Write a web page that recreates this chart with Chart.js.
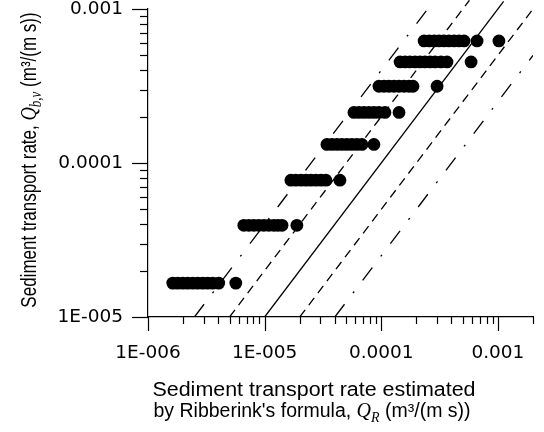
<!DOCTYPE html>
<html><head><meta charset="utf-8">
<script src="https://cdn.jsdelivr.net/npm/chart.js@4"></script>
<style>html,body{margin:0;padding:0;background:#fff}#wrap{width:544px;height:432px;position:relative}</style>
</head><body><div id="wrap"><canvas id="c"></canvas></div>
<script>
// ---- data ----
const qbvLevels = [1.66e-5, 3.94e-5, 7.73e-5, 1.32e-4, 2.13e-4, 3.15e-4, 4.53e-4, 6.2e-4];
const qR_level1 = [1.63e-6, 1.80e-6, 1.99e-6, 2.19e-6, 2.42e-6, 2.67e-6, 2.95e-6, 3.25e-6, 3.59e-6, 4.04e-6, 5.66e-6];
const qR_level2 = [6.63e-6, 7.32e-6, 8.08e-6, 8.92e-6, 9.84e-6, 1.087e-5, 1.20e-5, 1.30e-5, 1.41e-5, 1.89e-5];
const qR_level3 = [1.68e-5, 1.85e-5, 2.05e-5, 2.26e-5, 2.49e-5, 2.75e-5, 3.04e-5, 3.35e-5, 4.42e-5];
const qR_level4 = [3.42e-5, 3.78e-5, 4.17e-5, 4.60e-5, 5.08e-5, 5.60e-5, 6.18e-5, 6.83e-5, 8.65e-5];
const qR_level5 = [5.83e-5, 6.44e-5, 7.11e-5, 7.84e-5, 8.65e-5, 9.55e-5, 1.076e-4, 1.42e-4];
const qR_level6 = [9.55e-5, 1.055e-4, 1.164e-4, 1.285e-4, 1.42e-4, 1.57e-4, 1.73e-4, 1.87e-4, 3.01e-4];
const qR_level7 = [1.45e-4, 1.60e-4, 1.76e-4, 1.95e-4, 2.15e-4, 2.37e-4, 2.62e-4, 2.89e-4, 3.25e-4, 3.66e-4, 5.89e-4];
const qR_level8 = [2.33e-4, 2.58e-4, 2.85e-4, 3.13e-4, 3.45e-4, 3.81e-4, 4.21e-4, 4.65e-4, 5.13e-4, 6.63e-4, 1.02e-3];
const qR_levels = [qR_level1, qR_level2, qR_level3, qR_level4, qR_level5, qR_level6, qR_level7, qR_level8];

// reference lines Qb,v = ratio * QR, drawn between these QR bounds
const refRatios = [4, 2, 1, 0.5, 0.25];
const refQRStart = [2.5e-6, 5e-6, 1e-5, 2e-5, 4e-5];
const refQREnd = [2.85e-4, 5.7e-4, 1.12e-3, 2e-3, 2e-3];

const xTickValues = [1e-6, 1e-5, 1e-4, 1e-3];
const xTickLabels = ['1E-006', '1E-005', '0.0001', '0.001'];
const yTickValues = [1e-5, 1e-4, 1e-3];
const yTickLabels = ['1E-005', '0.0001', '0.001'];
const xRange = [1e-6, 2e-3];
const yRange = [1e-5, 1e-3];

const xTitleLine1 = 'Sediment transport rate estimated';
const xTitleLine2 = ["by Ribberink's formula, ", 'Q', 'R', ' (m³/(m s))'];
const yTitleParts = ['Sediment transport rate, ', 'Q', 'b,v', ' (m³/(m s))'];

// ---- build datasets ----
const points = [];
qR_levels.forEach((xs, i) => xs.forEach(x => points.push({x: x, y: qbvLevels[i]})));

const dashStyles = [[16, 14, 2, 14], [9, 6], [], [9, 6], [16, 14, 2, 14]];
const datasets = [{
  label: 'data', data: points, backgroundColor: '#000', borderWidth: 0,
  pointRadius: 6.4, pointHoverRadius: 6.4, showLine: false
}];
refRatios.forEach((k, i) => {
  datasets.push({
    label: 'ratio ' + k,
    data: [{x: refQRStart[i], y: k * refQRStart[i]}, {x: refQREnd[i], y: k * refQREnd[i]}],
    showLine: true, borderColor: '#000', borderWidth: 1.3, borderDash: dashStyles[i],
    pointRadius: 0, fill: false, clip: {left: 0, top: 9, right: 0, bottom: 0}
  });
});

function isDecade(v) { const l = Math.log10(v); return Math.abs(l - Math.round(l)) < 1e-6; }
function labelFor(v, vals, labs) {
  for (let i = 0; i < vals.length; i++) if (Math.abs(v / vals[i] - 1) < 1e-6) return labs[i];
  return '';
}
function logTicks(min, max) {
  const t = [];
  for (let e = Math.floor(Math.log10(min)); e <= Math.ceil(Math.log10(max)); e++) {
    for (let m = 1; m <= 9; m++) {
      const v = m * Math.pow(10, e);
      if (v >= min * 0.9999 && v <= max * 1.0001) t.push({value: v});
    }
  }
  return t;
}

const tickFont = {family: '"DejaVu Sans"', size: 18.5};

const tickMarks = {
  id: 'tickMarks',
  afterDraw(chart) {
    const ctx = chart.ctx, xs = chart.scales.x, ys = chart.scales.y;
    ctx.save();
    ctx.strokeStyle = '#000';
    ctx.lineWidth = 1.2;
    xs.ticks.forEach(t => {
      const p = Math.round(xs.getPixelForValue(t.value)) + 0.5;
      const len = isDecade(t.value) ? 14 : 7;
      ctx.beginPath(); ctx.moveTo(p, chart.chartArea.bottom); ctx.lineTo(p, chart.chartArea.bottom + len); ctx.stroke();
    });
    ys.ticks.forEach(t => {
      const p = Math.round(ys.getPixelForValue(t.value)) + 0.5;
      const len = isDecade(t.value) ? 16 : 8;
      ctx.beginPath(); ctx.moveTo(chart.chartArea.left, p); ctx.lineTo(chart.chartArea.left - len, p); ctx.stroke();
    });
    ctx.restore();
  }
};

function drawRich(ctx, segs, cx, baseY) {
  let w = 0;
  segs.forEach(s => { ctx.font = s.font; s.w = ctx.measureText(s.text).width; w += s.w; });
  let x = cx - w / 2;
  segs.forEach(s => { ctx.font = s.font; ctx.fillText(s.text, x, baseY + (s.dy || 0)); x += s.w; });
}

const titles = {
  id: 'titles',
  afterDraw(chart) {
    const ctx = chart.ctx;
    const sans = '19.5px "Liberation Sans"';
    const qf = 'italic 20px "Liberation Serif"';
    const sf = 'italic 14px "Liberation Serif"';
    ctx.save();
    ctx.fillStyle = '#000';
    ctx.textBaseline = 'alphabetic';
    ctx.textAlign = 'left';
    // x title
    ctx.save();
    ctx.translate(314, 0);
    ctx.scale(1.1, 1);
    drawRich(ctx, [{text: xTitleLine1, font: sans}], 0, 396);
    ctx.restore();
    ctx.save();
    ctx.translate(312, 0);
    ctx.scale(1.0, 1);
    drawRich(ctx, [
      {text: xTitleLine2[0], font: sans},
      {text: xTitleLine2[1], font: qf},
      {text: xTitleLine2[2], font: sf, dy: 5},
      {text: xTitleLine2[3], font: sans}
    ], 0, 417);
    ctx.restore();
    // y title
    ctx.save();
    ctx.translate(36, 160);
    ctx.rotate(-Math.PI / 2);
    ctx.scale(1, 1.3);
    drawRich(ctx, [
      {text: yTitleParts[0], font: '17px "Liberation Sans"'},
      {text: yTitleParts[1], font: 'italic 18.5px "Liberation Serif"'},
      {text: yTitleParts[2], font: 'italic 13px "Liberation Serif"', dy: 4},
      {text: yTitleParts[3], font: '17px "Liberation Sans"'}
    ], 0, 0);
    ctx.restore();
    ctx.restore();
  }
};

new Chart(document.getElementById('c'), {
  type: 'scatter',
  data: {datasets: datasets},
  plugins: [tickMarks, titles],
  options: {
    responsive: true, maintainAspectRatio: false, animation: false,
    layout: {padding: {left: 0, top: 9, right: 11, bottom: 0}},
    plugins: {legend: {display: false}, tooltip: {enabled: false}, title: {display: false}},
    scales: {
      x: {
        type: 'logarithmic', min: xRange[0], max: xRange[1], position: 'bottom',
        afterBuildTicks: s => { s.ticks = logTicks(xRange[0], xRange[1]); },
        afterFit: s => { s.height = 115; s.paddingLeft = 0; s.paddingRight = 0; },
        ticks: {
          autoSkip: false, maxRotation: 0, minRotation: 0, color: '#000', font: tickFont, padding: 25,
          callback: v => labelFor(v, xTickValues, xTickLabels)
        },
        grid: {drawOnChartArea: false, drawTicks: false},
        border: {display: true, color: '#000', width: 1.2},
        title: {display: false}
      },
      y: {
        type: 'logarithmic', min: yRange[0], max: yRange[1], position: 'left',
        afterBuildTicks: s => { s.ticks = logTicks(yRange[0], yRange[1]); },
        afterFit: s => { s.width = 148; s.paddingTop = 0; s.paddingBottom = 0; },
        ticks: {
          autoSkip: false, color: '#000', font: tickFont, padding: 25,
          callback: v => labelFor(v, yTickValues, yTickLabels)
        },
        grid: {drawOnChartArea: false, drawTicks: false},
        border: {display: true, color: '#000', width: 1.2},
        title: {display: false}
      }
    }
  }
});
</script>
</body></html>
